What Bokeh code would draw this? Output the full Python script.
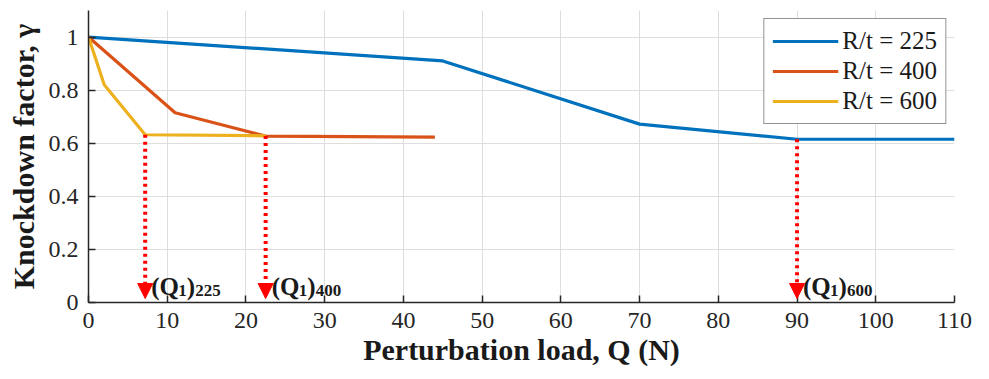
from bokeh.plotting import figure
from bokeh.models import (ColumnDataSource, FixedTicker, Arrow, NormalHead, Legend, LegendItem)
from bokeh.core.properties import value
from bokeh.embed import file_html
from bokeh.resources import INLINE

# ---- data ----
q_225 = [0, 45, 70, 90, 110]
g_225 = [1.0, 0.91, 0.672, 0.615, 0.615]
q_400 = [0, 11, 22.5, 44]
g_400 = [1.0, 0.715, 0.627, 0.623]
q_600 = [0, 2, 7.2, 22.5]
g_600 = [1.0, 0.82, 0.632, 0.628]
series_labels = ["R/t = 225", "R/t = 400", "R/t = 600"]

q1_x = [7.2, 22.5, 90]
q1_gamma = [0.632, 0.627, 0.615]
q1_sub = ["225", "400", "600"]

x_ticks = [0, 10, 20, 30, 40, 50, 60, 70, 80, 90, 100, 110]
y_ticks = [0, 0.2, 0.4, 0.6, 0.8, 1.0]
y_tick_labels = ["0", "0.2", "0.4", "0.6", "0.8", "1"]

SERIF = "Liberation Serif"
BLUE, ORANGE, YELLOW = "#0072BD", "#D95319", "#EDB120"

p = figure(width=989, height=379, x_range=(0, 110), y_range=(0, 1.1),
           output_backend="svg", toolbar_location=None,
           min_border_left=88, min_border_right=35, min_border_top=10,
           min_border_bottom=77)
p.outline_line_color = None
p.background_fill_color = "white"

# grid
for g in (p.xgrid, p.ygrid):
    g.grid_line_color = "#dedede"
    g.grid_line_width = 1
p.xgrid.ticker = FixedTicker(ticks=x_ticks)
p.ygrid.ticker = FixedTicker(ticks=y_ticks)

# axes
p.xaxis.ticker = FixedTicker(ticks=x_ticks)
p.yaxis.ticker = FixedTicker(ticks=y_ticks)
p.yaxis.major_label_overrides = {t: l for t, l in zip(y_ticks, y_tick_labels)}
for ax in (p.xaxis, p.yaxis):
    ax.axis_line_color = "#262626"
    ax.axis_line_width = 1.5
    ax.major_tick_line_color = "#262626"
    ax.major_tick_line_width = 1.5
    ax.major_tick_in = 7
    ax.major_tick_out = 0
    ax.minor_tick_line_color = None
    ax.major_label_text_font = SERIF
    ax.major_label_text_font_size = "24px"
    ax.major_label_text_font_style = "normal"
    ax.major_label_text_color = "#262626"
    ax.axis_label_text_font = SERIF
    ax.axis_label_text_font_size = "30px"
    ax.axis_label_text_font_style = "bold"
    ax.axis_label_text_color = "#1a1a1a"
p.xaxis.axis_label = "Perturbation load, Q (N)"
p.yaxis.axis_label = "Knockdown factor, γ"
p.xaxis.major_label_standoff = 10
p.yaxis.major_label_standoff = 10
p.xaxis.axis_label_standoff = 2
p.yaxis.axis_label_standoff = 6

# series
r1 = p.line(q_225, g_225, line_color=BLUE, line_width=3.2)
r2 = p.line(q_400, g_400, line_color=ORANGE, line_width=3.2)
r3 = p.line(q_600, g_600, line_color=YELLOW, line_width=3.2)

# arrows
asrc = ColumnDataSource(dict(x0=q1_x, y0=q1_gamma, x1=q1_x, y1=[0.015] * len(q1_x)))
p.add_layout(Arrow(x_start="x0", y_start="y0", x_end="x1", y_end="y1", source=asrc,
                   line_color="#FF0000", line_width=4, line_dash="3 4",
                   end=NormalHead(size=15, fill_color="#FF0000", line_color="#FF0000",
                                  line_width=1)))

# annotations (Q1)_xxx
main_y = [0.062] * len(q1_x)
sub_y = [0.047] * len(q1_x)
common = dict(text_font=value(SERIF), text_font_style="bold", text_color="#1a1a1a",
              text_baseline="alphabetic", text_align="left")
p.text(x=q1_x, y=main_y, text=["(Q"] * 3, x_offset=6, text_font_size="25px", **common)
p.text(x=q1_x, y=sub_y, text=["1"] * 3, x_offset=33, text_font_size="17px", **common)
p.text(x=q1_x, y=main_y, text=[")"] * 3, x_offset=41.5, text_font_size="25px", **common)
p.text(x=q1_x, y=sub_y, text=q1_sub, x_offset=50, text_font_size="17px", **common)

# legend
legend = Legend(items=[LegendItem(label=series_labels[0], renderers=[r1]),
                       LegendItem(label=series_labels[1], renderers=[r2]),
                       LegendItem(label=series_labels[2], renderers=[r3])],
                location="top_right")
legend.margin = 8
legend.padding = 8
legend.spacing = 2
legend.glyph_width = 66
legend.glyph_height = 28
legend.label_height = 28
legend.label_standoff = 4
legend.label_text_font = SERIF
legend.label_text_font_size = "25px"
legend.label_text_color = "#1a1a1a"
legend.border_line_color = "#262626"
legend.border_line_width = 1.2
legend.background_fill_color = "white"
legend.background_fill_alpha = 1.0
p.add_layout(legend)

open("out.html", "w").write(file_html(p, INLINE))
